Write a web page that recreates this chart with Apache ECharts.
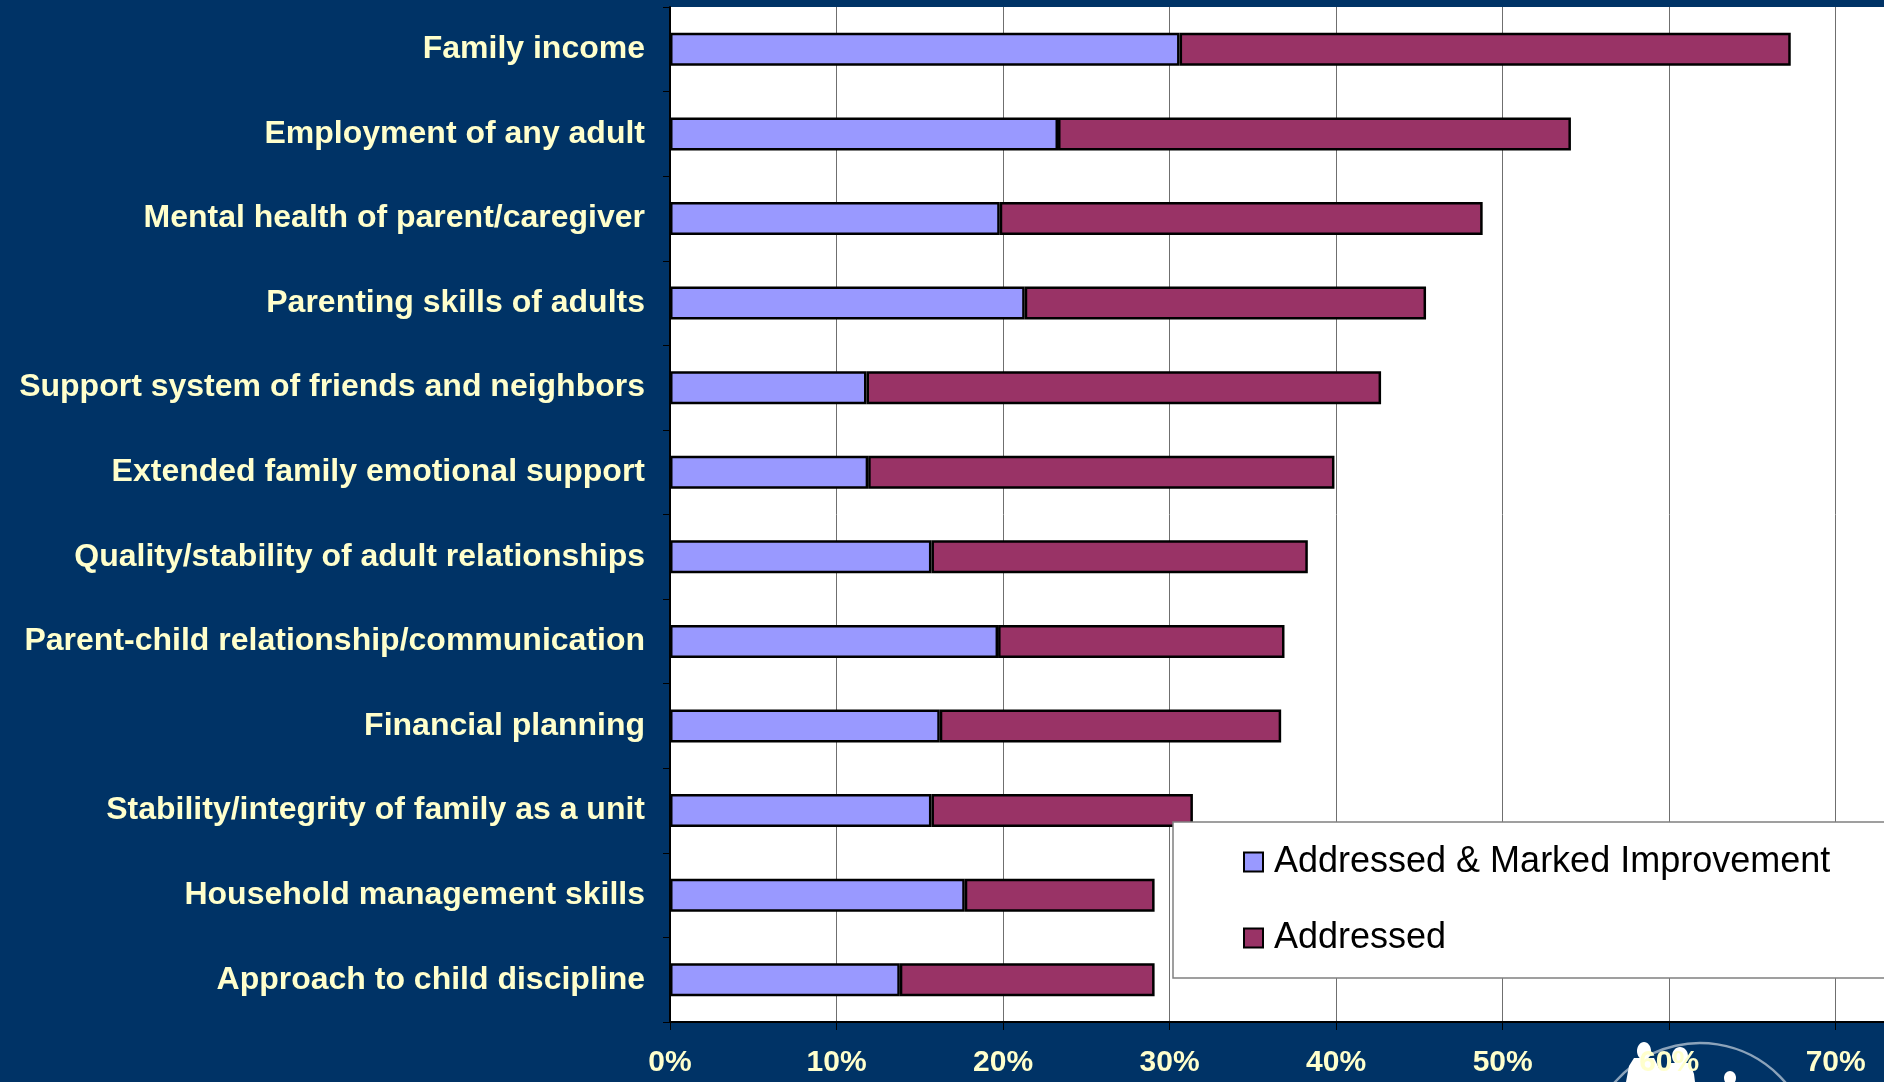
<!DOCTYPE html>
<html>
<head>
<meta charset="utf-8">
<script src="https://cdn.jsdelivr.net/npm/echarts@6/dist/echarts.min.js"></script>
<style>
  html, body { margin: 0; padding: 0; background: #003366; }
  #chart { width: 1884px; height: 1082px; }
</style>
</head>
<body>
<div id="chart"></div>
<script>
const categories = [
  "Family income",
  "Employment of any adult",
  "Mental health of parent/caregiver",
  "Parenting skills of adults",
  "Support system of friends and neighbors",
  "Extended family emotional support",
  "Quality/stability of adult relationships",
  "Parent-child relationship/communication",
  "Financial planning",
  "Stability/integrity of family as a unit",
  "Household management skills",
  "Approach to child discipline"
];
// Share addressed with marked improvement (%)
const markedImprovement = [30.6, 23.3, 19.8, 21.3, 11.8, 11.9, 15.7, 19.7, 16.2, 15.7, 17.7, 13.8];
// Total share addressed (%)
const totalAddressed = [67.3, 54.1, 48.8, 45.4, 42.7, 39.9, 38.3, 36.9, 36.7, 31.4, 29.1, 29.1];
// Addressed only (the remainder of the stacked bar)
const addressedOnly = totalAddressed.map((t, i) => +(t - markedImprovement[i]).toFixed(1));
const xTickLabels = ["0%", "10%", "20%", "30%", "40%", "50%", "60%", "70%"];
const seriesNames = ["Addressed & Marked Improvement", "Addressed"];

const chart = echarts.init(document.getElementById('chart'));
const labelFont = { color: '#FFFFCC', fontWeight: 'bold', fontFamily: 'Liberation Sans, Arial, sans-serif' };

chart.setOption({
  backgroundColor: '#003366',
  animation: false,
  graphic: [
    { type: 'arc', z: -10, shape: { cx: 1700, cy: 1155, r: 112, startAngle: Math.PI * 1.05, endAngle: Math.PI * 1.95 }, style: { fill: 'none', stroke: 'rgba(255,255,255,0.55)', lineWidth: 2.5 } },
    { type: 'ellipse', z: -10, shape: { cx: 1644, cy: 1051, rx: 7, ry: 9 }, style: { fill: '#ffffff' } },
    { type: 'polygon', z: -10, shape: { points: [[1634, 1058], [1654, 1058], [1660, 1070], [1662, 1082], [1626, 1082], [1629, 1066]] }, style: { fill: '#ffffff' } },
    { type: 'ellipse', z: -10, shape: { cx: 1680, cy: 1056, rx: 8, ry: 9 }, style: { fill: '#ffffff' } },
    { type: 'polygon', z: -10, shape: { points: [[1670, 1063], [1690, 1063], [1694, 1074], [1695, 1082], [1664, 1082], [1666, 1070]] }, style: { fill: '#ffffff' } },
    { type: 'rect', z: -10, shape: { x: 1655, y: 1068, width: 14, height: 14 }, style: { fill: '#ffffff' } },
    { type: 'ellipse', z: -10, shape: { cx: 1730, cy: 1078, rx: 6, ry: 7 }, style: { fill: '#ffffff' } }
  ],
  grid: {
    left: 670, right: 0, top: 7, bottom: 60,
    show: true, backgroundColor: '#ffffff', borderWidth: 0
  },
  legend: {
    orient: 'vertical',
    left: 1173, top: 822,
    padding: [20, 100, 20, 70],
    itemGap: 36,
    itemWidth: 19, itemHeight: 19,
    icon: 'rect',
    backgroundColor: '#ffffff',
    borderColor: '#808080', borderWidth: 1.5,
    itemStyle: { borderColor: '#000', borderWidth: 2 },
    textStyle: { color: '#000', fontSize: 36, lineHeight: 40, fontFamily: 'Liberation Sans, Arial, sans-serif', padding: [0, 0, 0, 6] },
    data: seriesNames
  },
  xAxis: {
    type: 'value',
    min: 0, max: 72.9, interval: 10,
    axisLine: { show: true, lineStyle: { color: '#000', width: 2 } },
    axisTick: { show: true, length: 8, lineStyle: { color: '#000', width: 1 } },
    axisLabel: Object.assign({
      margin: 26,
      fontSize: 30,
      showMaxLabel: false,
      formatter: v => xTickLabels[Math.round(v / 10)] || ''
    }, labelFont),
    splitLine: { show: true, lineStyle: { color: '#6f6f6f', width: 1 } }
  },
  yAxis: {
    type: 'category',
    inverse: true,
    data: categories,
    axisLine: { show: true, lineStyle: { color: '#000', width: 2 } },
    axisTick: { show: true, length: 7, lineStyle: { color: '#000', width: 1 } },
    axisLabel: Object.assign({ margin: 25, fontSize: 32 }, labelFont),
    splitLine: { show: false }
  },
  series: [
    {
      name: seriesNames[0], type: 'bar', stack: 'total', barWidth: 33,
      itemStyle: { color: '#9999FF', borderColor: '#000', borderWidth: 2.5 },
      data: markedImprovement
    },
    {
      name: seriesNames[1], type: 'bar', stack: 'total', barWidth: 33,
      itemStyle: { color: '#993366', borderColor: '#000', borderWidth: 2.5 },
      data: addressedOnly
    }
  ]
});
</script>
</body>
</html>
